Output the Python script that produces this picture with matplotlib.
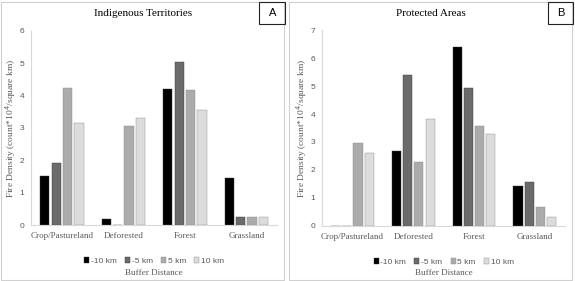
import matplotlib
matplotlib.use("Agg")
import matplotlib.pyplot as plt
import numpy as np
from matplotlib.patches import Rectangle

categories = ["Crop/Pastureland", "Deforested", "Forest", "Grassland"]
buffers = ["-10 km", "-5 km", "5 km", "10 km"]
colors = ["#000000", "#6b6b6b", "#ababab", "#dcdcdc"]

# fire density per buffer, one list per category order above
indig = {
    "-10 km": [1.52, 0.19, 4.22, 1.47],
    "-5 km": [1.93, 0.0, 5.05, 0.25],
    "5 km": [4.23, 3.05, 4.17, 0.26],
    "10 km": [3.15, 3.30, 3.55, 0.26],
}
protected = {
    "-10 km": [0.0, 2.68, 6.38, 1.42],
    "-5 km": [0.0, 5.40, 4.93, 1.58],
    "5 km": [2.95, 2.27, 3.58, 0.68],
    "10 km": [2.60, 3.82, 3.30, 0.33],
}

serif = "Liberation Serif"
sans = "Liberation Sans"
grey = "#595959"
ylab = "Fire Density (count*10$^{4}$/square km)"

fig = plt.figure(figsize=(5.75, 2.81), dpi=100)


def panel(rect, data, ymax, title, letter, box, lbox):
    # outer frame of the panel
    fig.patches.append(Rectangle((box[0], box[1]), box[2], box[3], transform=fig.transFigure,
                                 fill=False, edgecolor="#d0d0d0", lw=0.8))
    ax = fig.add_axes(rect)
    x = np.arange(len(categories))
    for i, b in enumerate(buffers):
        ax.bar(x + (i - 1.5) * 0.185, data[b], width=0.15, color=colors[i],
               edgecolor="#3a3a3a" if i < 2 else "#8a8a8a", linewidth=0.3, label=b)
    ax.set_xlim(-0.5, 3.5)
    ax.set_ylim(0, ymax)
    ax.set_yticks(range(ymax + 1))
    ax.set_xticks(x)
    ax.set_xticklabels(categories, fontfamily=serif, fontsize=6.5, color=grey)
    for t in ax.get_yticklabels():
        t.set_fontfamily(sans)
        t.set_fontsize(6)
        t.set_color(grey)
    ax.tick_params(length=0, pad=5)
    for s in ["top", "right"]:
        ax.spines[s].set_visible(False)
    for s in ["left", "bottom"]:
        ax.spines[s].set_color("#d9d9d9")
        ax.spines[s].set_linewidth(0.8)
    ax.set_ylabel(ylab, fontfamily=serif, fontsize=6.8, color=grey, labelpad=1)
    # title is centred on the whole panel frame, like Excel does
    fig.text(box[0] + box[2] / 2, 1 - 13 / 281, title, ha="center", va="center",
             fontfamily=serif, fontsize=8)
    leg = ax.legend(loc="upper center", bbox_to_anchor=(0.5, -0.145), ncol=4, frameon=False,
                    prop={"family": sans, "size": 6}, handlelength=0.6, handleheight=0.6,
                    handletextpad=0.2, columnspacing=1.0, borderpad=0)
    for t in leg.get_texts():
        t.set_color(grey)
    fig.text(rect[0] + rect[2] / 2, 0.03, "Buffer Distance", ha="center", va="center",
             fontfamily=serif, fontsize=6.5, color=grey)
    # letter box
    fig.patches.append(Rectangle((lbox[0], lbox[1]), lbox[2], lbox[3], transform=fig.transFigure,
                                 fill=False, edgecolor="#222222", lw=0.8))
    fig.text(lbox[0] + lbox[2] / 2, lbox[1] + lbox[3] / 2, letter, ha="center", va="center",
             fontfamily=sans, fontsize=8)
    return ax


panel([0.054, 0.199, 0.428, 0.691], indig, 6, "Indigenous Territories", "A",
      (0.002, 0.004, 0.492, 0.99), (0.451, 0.915, 0.045, 0.078))
panel([0.560, 0.196, 0.423, 0.697], protected, 7, "Protected Areas", "B",
      (0.503, 0.004, 0.492, 0.99), (0.953, 0.915, 0.043, 0.078))

fig.savefig("out.png", dpi=100)
